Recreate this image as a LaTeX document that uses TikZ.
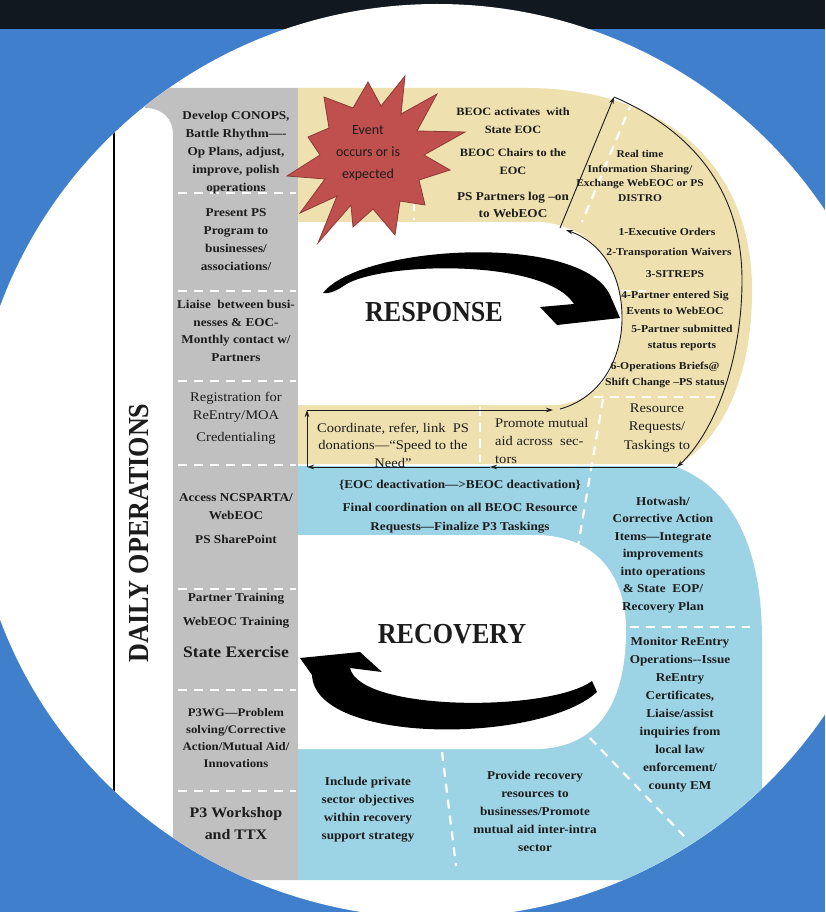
\documentclass[tikz,border=0pt]{standalone}
\usepackage{fontspec}
\setmainfont{Liberation Serif}[FakeStretch=1.1]
\newfontfamily\capfont{Liberation Serif}[FakeStretch=0.9]
\newfontfamily\starfont{Carlito}
\usetikzlibrary{arrows.meta}
\definecolor{bgblue}{HTML}{3F7FCB}
\definecolor{topbar}{HTML}{12181F}
\definecolor{graycol}{HTML}{C0C0C0}
\definecolor{tanfill}{HTML}{EEE0AF}
\definecolor{ltblue}{HTML}{9DD4E5}
\definecolor{starred}{HTML}{C0504D}
\definecolor{stardark}{HTML}{8C3A37}
\definecolor{ink}{HTML}{1C1C1C}
\begin{document}
\begin{tikzpicture}[x=1pt,y=-1pt,
  txt/.style={align=center,inner sep=0pt,text=ink},
  gb/.style={txt,font=\fontsize{12}{18}\selectfont\bfseries},
  tb/.style={txt,font=\fontsize{11.2}{18}\selectfont\bfseries},
  tl/.style={txt,font=\fontsize{10.6}{15.5}\selectfont\bfseries},
  rg/.style={txt,font=\fontsize{13.2}{18}\selectfont},
  bb/.style={txt,font=\fontsize{12}{18}\selectfont\bfseries},
  bigcap/.style={txt,font=\capfont\fontsize{29}{30}\selectfont\bfseries},
  sep/.style={white,line width=2.2pt,dash pattern=on 9pt off 7pt},
  thinarrow/.style={draw=ink,line width=0.9pt,-{Stealth[length=7pt,width=4.5pt]}}
]
\useasboundingbox (0,0) rectangle (825,912);
\fill[bgblue] (0,0) rectangle (825,912);
\fill[topbar] (0,0) rectangle (825,29);
\fill[white] (-28,464) arc[start angle=180,end angle=0,x radius=465pt,y radius=460pt]
  arc[start angle=0,end angle=-180,x radius=465pt,y radius=454pt] -- cycle;
\begin{scope}
\clip (-28,464) arc[start angle=180,end angle=0,x radius=465pt,y radius=460pt]
  arc[start angle=0,end angle=-180,x radius=465pt,y radius=454pt] -- cycle;
% gray column
\fill[graycol] (147,88) -- (298,88) -- (298,880) -- (173,880) -- (173,135)
  .. controls (173,118) and (162,108) .. (145,108) -- cycle;
% tan lobe
\fill[tanfill] (298,88) -- (520,88) .. controls (665,86) and (752,165) .. (752,290)
  .. controls (752,385) and (718,440) .. (680,464) -- (298,464) -- cycle;
\fill[white] (298,222) -- (540,222) .. controls (598,226) and (622,275) .. (622,318)
  .. controls (622,365) and (600,402) .. (555,405) -- (298,405) -- cycle;
% blue lobe
\fill[ltblue] (298,466) -- (674,466) .. controls (740,490) and (762,560) .. (762,640)
  -- (762,780) .. controls (762,860) and (700,880) .. (620,880) -- (298,880) -- cycle;
\fill[white] (298,535) -- (540,535) .. controls (600,538) and (626,580) .. (626,630)
  .. controls (626,700) and (600,746) .. (540,749) -- (298,749) -- cycle;
% separators
\foreach \yy in {193,291,381,465,589,690,791}
  \draw[sep] (178,\yy) -- (296,\yy);
\draw[sep] (414,186) -- (414,220);
\draw[sep] (632,102) -- (582,222);
\draw[sep] (622,291) -- (646,291);
\draw[sep] (594,397) -- (720,397);
\draw[sep] (603,399) -- (578,546);
\draw[sep] (480,407) -- (480,462);
\draw[sep] (630,627) -- (750,627);
\draw[sep] (590,738) -- (684,836);
\draw[sep] (442,752) -- (456,866);
% star
\filldraw[fill=starred,draw=stardark,line width=0.8pt,line join=miter]
  (405,76) -- (401,114) -- (437,94) -- (417,131) -- (465,132) -- (424,155)
  -- (450,170) -- (419,180) -- (425,205) -- (400,201) -- (395,235) -- (373,209)
  -- (353,227) -- (351,205) -- (318,243) -- (337,196) -- (300,213) -- (325,179)
  -- (287,176) -- (320,155) -- (308,137) -- (329,128) -- (324,97) -- (353,108)
  -- (368,82) -- (381,106) -- cycle;
\node[txt,font=\starfont\fontsize{14}{22}\selectfont] (ev) at (368,153) {Event\\occurs or is\\expected};
% thin cycle arrows
\coordinate (p1) at (560,228);
\coordinate (p2) at (614,97);
\coordinate (p3) at (677,467);
\coordinate (p4) at (490,467);
\coordinate (p5) at (307,467);
\coordinate (p6) at (307,410);
\coordinate (p7) at (553,410);
\coordinate (p8) at (560,409);
\coordinate (p9) at (566,230);
\draw[thinarrow] (p1) -- (p2);
\draw[thinarrow] (p2) .. controls (680,125) and (742,180) .. (742,280)
  .. controls (742,365) and (712,435) .. (p3);
\draw[thinarrow] (p3) -- (p4);
\draw[thinarrow] (p4) -- (p5);
\draw[thinarrow] (p5) -- (p6);
\draw[thinarrow] (p6) -- (p7);
\draw[thinarrow] (p8) .. controls (600,398) and (622,360) .. (622,318)
  .. controls (622,272) and (600,242) .. (p9);
% big response arrow
\fill[black] (323,293) .. controls (360,245) and (580,232) .. (610,295)
  -- (620,318) -- (557,325) -- (540,307) -- (574,304)
  .. controls (545,258) and (380,262) .. (345,285) .. controls (338,290) and (330,294) .. cycle;
% big recovery arrow
\fill[black] (300,658) -- (360,652) -- (382,672) -- (350,668)
  .. controls (360,712) and (550,712) .. (592,681) -- (597,692)
  .. controls (540,744) and (315,745) .. (312,675) -- cycle;
% line
\draw[black,line width=2.2pt] (114,0) -- (114,912);
\end{scope}
% texts
\node[bigcap,rotate=90] (daily) at (139,533) {DAILY OPERATIONS};
\node[bigcap] (resp) at (434,312) {RESPONSE};
\node[bigcap] (reco) at (452,634) {RECOVERY};
\node[gb] (g1) at (236,153) {Develop CONOPS,\\Battle Rhythm—-\\Op Plans, adjust,\\improve, polish\\operations};
\node[gb] (g2) at (236,240) {Present PS\\Program to\\businesses/\\associations/};
\node[gb,font=\fontsize{12}{17.7}\selectfont\bfseries] (g3) at (236,331) {Liaise\ \ between busi-\\nesses \& EOC-\\Monthly contact w/\\Partners};
\node[rg] (g4) at (236,418) {Registration for\\ReEntry/MOA\\[4pt]Credentialing};
\node[gb] (g5) at (236,519) {Access NCSPARTA/\\WebEOC\\[6pt]PS SharePoint};
\node[gb] (g6) at (236,611) {Partner Training\\[6pt]WebEOC Training};
\node[txt,font=\fontsize{16}{20}\selectfont\bfseries] (g7) at (236,652) {State Exercise};
\node[gb,font=\fontsize{11.6}{16.7}\selectfont\bfseries] (g8) at (236,738) {P3WG—Problem\\solving/Corrective\\Action/Mutual Aid/\\Innovations};
\node[txt,font=\fontsize{14.5}{22}\selectfont\bfseries] (g9) at (236,824) {P3 Workshop\\and TTX};
\node[tb] (t1) at (513,121) {BEOC activates\ \ with\\State EOC};
\node[tb] (t2) at (513,162) {BEOC Chairs to the\\EOC};
\node[tb,font=\fontsize{12}{17}\selectfont\bfseries] (t3) at (513,205) {PS Partners log –on\\to WebEOC};
\node[tl,font=\fontsize{10.4}{14.8}\selectfont\bfseries] (t4) at (640,176) {Real time\\Information Sharing/\\Exchange WebEOC or PS\\DISTRO};
\node[tl] (t5) at (667,232) {1-Executive Orders};
\node[tl] (t6) at (669,253) {2-Transporation Waivers};
\node[tl] (t7) at (675,274) {3-SITREPS};
\node[tl] (t8) at (675,303) {4-Partner entered Sig\\Events to WebEOC};
\node[tl] (t9) at (682,338) {5-Partner submitted\\status reports};
\node[tl] (t10) at (665,375) {6-Operations Briefs@\\Shift Change –PS status};
\node[rg,font=\fontsize{13.2}{18.5}\selectfont] (t11) at (657,428) {Resource\\Requests/\\Taskings to};
\node[rg,font=\fontsize{13.2}{17.5}\selectfont] (t12) at (393,445) {Coordinate, refer, link\ \ PS\\donations—“Speed to the\\Need”};
\node[rg,align=left,anchor=west] (t13) at (495,441) {Promote mutual\\aid across\ \ sec-\\tors};
\node[bb] (b1) at (460,485) {\{EOC deactivation—>BEOC deactivation\}};
\node[bb,font=\fontsize{12}{19}\selectfont\bfseries] (b2) at (460,518) {Final coordination on all BEOC Resource\\Requests—Finalize P3 Taskings};
\node[bb,font=\fontsize{12}{17.5}\selectfont\bfseries] (b3) at (663,555) {Hotwash/\\Corrective Action\\Items—Integrate\\improvements\\into operations\\\&\ State\ \ EOP/\\Recovery Plan};
\node[bb] (b4) at (680,715) {Monitor ReEntry\\Operations-{}-Issue\\ReEntry\\Certificates,\\Liaise/assist\\inquiries from\\local law\\enforcement/\\county EM};
\node[bb] (b5) at (368,810) {Include private\\sector objectives\\within recovery\\support strategy};
\node[bb] (b6) at (535,811) {Provide recovery\\resources to\\businesses/Promote\\mutual aid inter-intra\\sector};
\end{tikzpicture}
\end{document}
